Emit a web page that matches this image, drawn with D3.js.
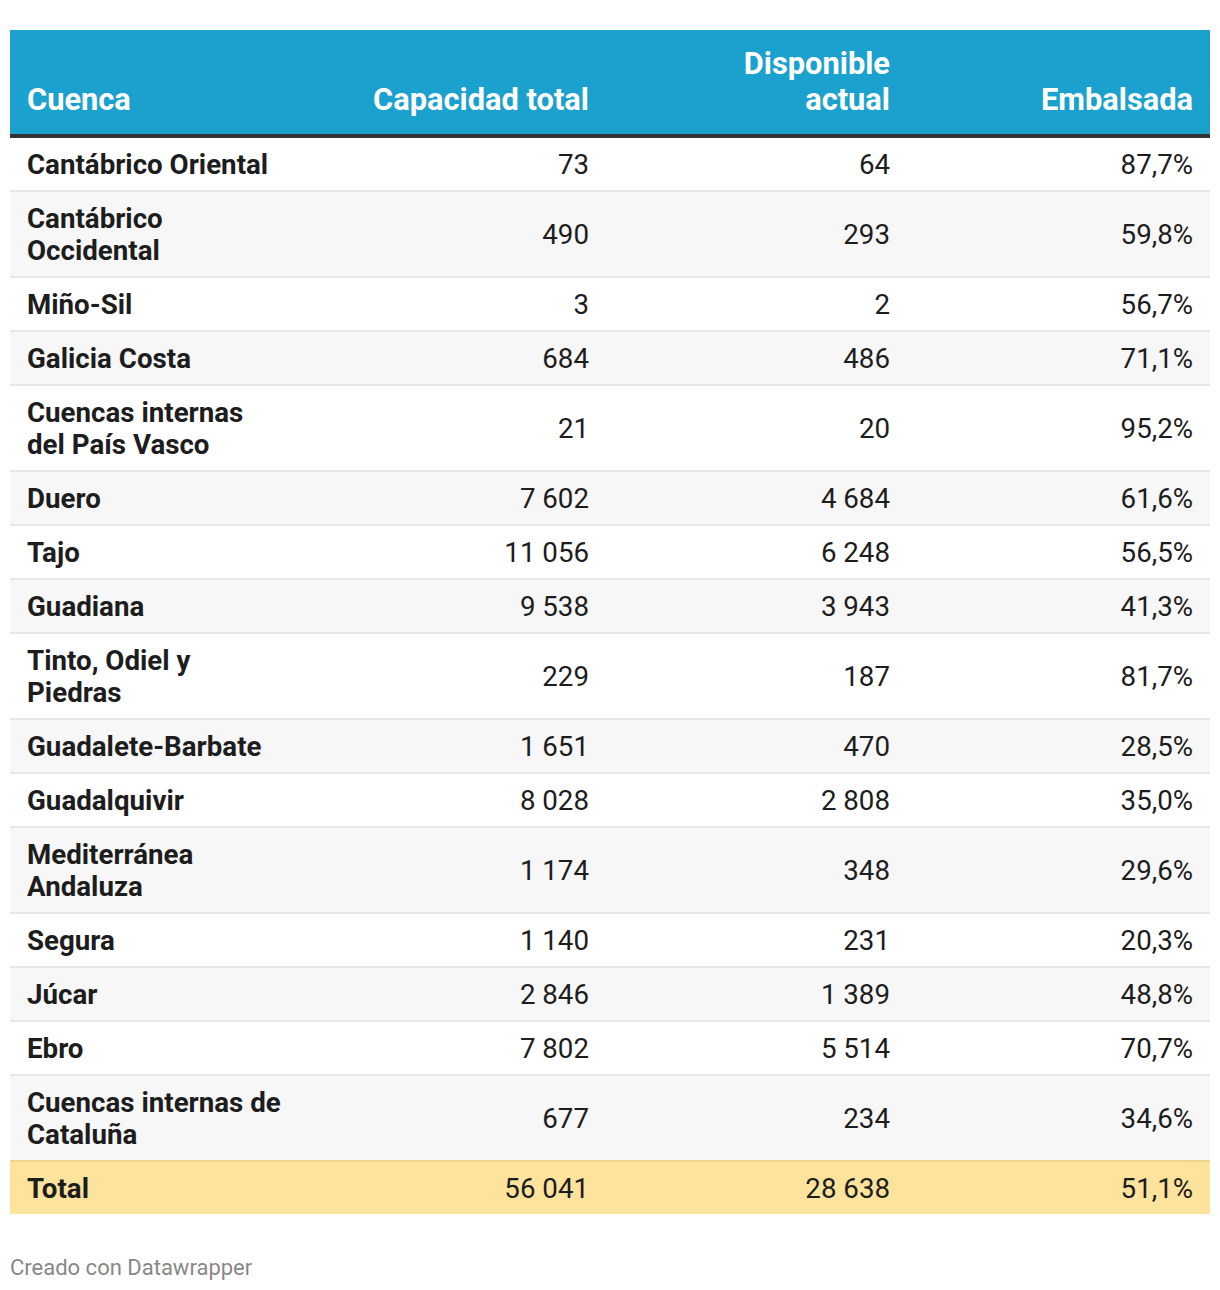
<!DOCTYPE html>
<html><head><meta charset="utf-8">
<script src="https://cdn.jsdelivr.net/npm/d3@7"></script>
<style>
html,body{margin:0;padding:0;background:#fff;}
svg{display:block;font-family:Roboto,"Noto Sans",sans-serif;}
</style></head>
<body>
<svg id="chart" width="1220" height="1290"></svg>
<script>
const columns = ["Cuenca", "Capacidad total", "Disponible actual", "Embalsada"];
const cuencas = ["Cantábrico Oriental","Cantábrico Occidental","Miño-Sil","Galicia Costa","Cuencas internas del País Vasco","Duero","Tajo","Guadiana","Tinto, Odiel y Piedras","Guadalete-Barbate","Guadalquivir","Mediterránea Andaluza","Segura","Júcar","Ebro","Cuencas internas de Cataluña"];
const capacidad = [73,490,3,684,21,7602,11056,9538,229,1651,8028,1174,1140,2846,7802,677];
const disponible = [64,293,2,486,20,4684,6248,3943,187,470,2808,348,231,1389,5514,234];
const embalsada = [87.7,59.8,56.7,71.1,95.2,61.6,56.5,41.3,81.7,28.5,35.0,29.6,20.3,48.8,70.7,34.6];
const totalLabel = "Total";
const totalValues = [56041, 28638, 51.1];
const footer = "Creado con Datawrapper";

const locale = d3.formatLocale({decimal:",", thousands:"\u2009", grouping:[3], currency:["","€"]});
const fmtInt = v => locale.format(",d")(v).replace(/\u2009/g," ");
const fmtPct = v => locale.format(".1f")(v) + "%";

const svg = d3.select("#chart");
const X0 = 10, X1 = 1210, PAD = 17;
const colRight = [306, 606, 907, 1210];
const headTop = 30, headBottom = 134, headBorder = 4;
const lineH = 32, rowPad = 20, divider = 2;
const bodyFont = 27.7, headFont = 30.8;
const textColor = "#1d1d1d";

// header
svg.append("rect").attr("x",X0).attr("y",headTop).attr("width",X1-X0).attr("height",headBottom-headTop).attr("fill","#1aa1cd");
svg.append("rect").attr("x",X0).attr("y",headBottom).attr("width",X1-X0).attr("height",headBorder).attr("fill","#333333");

const headLines = [["Cuenca"],["Capacidad total"],["Disponible","actual"],["Embalsada"]];
headLines.forEach((lines,i)=>{
  const t = svg.append("text")
    .attr("x", i===0 ? X0+PAD : colRight[i]-PAD)
    .attr("text-anchor", i===0 ? "start" : "end")
    .attr("font-size", headFont).attr("font-weight", 700).attr("fill","#fff");
  const n = lines.length;
  lines.forEach((l,j)=>{
    t.append("tspan").attr("x", i===0 ? X0+PAD : colRight[i]-PAD)
      .attr("y", 110 - (n-1-j)*36).text(l);
  });
});

// wrap measurement
const measurer = svg.append("text").attr("font-size",bodyFont).attr("font-weight",700).attr("visibility","hidden");
function textW(s){ measurer.text(s); return measurer.node().getComputedTextLength(); }
const maxW = 258;
function wrap(s){
  const words = s.split(" "); const lines=[]; let cur="";
  words.forEach(w=>{
    const test = cur ? cur+" "+w : w;
    if (cur && textW(test) > maxW){ lines.push(cur); cur=w; } else cur=test;
  });
  lines.push(cur); return lines;
}

let y = headBottom + headBorder;
const rows = cuencas.map((c,i)=>({name:c, lines:wrap(c), vals:[fmtInt(capacidad[i]), fmtInt(disponible[i]), fmtPct(embalsada[i])]}));
rows.forEach((r,i)=>{
  const h = r.lines.length*lineH + rowPad;
  svg.append("rect").attr("x",X0).attr("y",y).attr("width",X1-X0).attr("height",h).attr("fill", i%2 ? "#f7f7f7" : "#ffffff");
  const cy = y + h/2;
  const t = svg.append("text").attr("font-size",bodyFont).attr("font-weight",700).attr("fill",textColor).attr("dominant-baseline","central");
  r.lines.forEach((l,j)=>{
    t.append("tspan").attr("x",X0+PAD).attr("y", cy + (j-(r.lines.length-1)/2)*lineH).text(l);
  });
  r.vals.forEach((v,k)=>{
    svg.append("text").attr("x",colRight[k+1]-PAD).attr("y",cy).attr("text-anchor","end")
      .attr("dominant-baseline","central").attr("font-size",bodyFont).attr("fill",textColor).text(v);
  });
  y += h;
  if (i < rows.length-1){
    svg.append("rect").attr("x",X0).attr("y",y).attr("width",X1-X0).attr("height",divider).attr("fill","#e6e6e6");
    y += divider;
  }
});

// total row
svg.append("rect").attr("x",X0).attr("y",y).attr("width",X1-X0).attr("height",divider).attr("fill","#f0d48a");
y += divider;
const th = lineH + rowPad;
svg.append("rect").attr("x",X0).attr("y",y).attr("width",X1-X0).attr("height",th).attr("fill","#fee39c");
const tcy = y + th/2;
svg.append("text").attr("x",X0+PAD).attr("y",tcy).attr("dominant-baseline","central").attr("font-size",bodyFont).attr("font-weight",700).attr("fill",textColor).text(totalLabel);
[fmtInt(totalValues[0]), fmtInt(totalValues[1]), fmtPct(totalValues[2])].forEach((v,k)=>{
  svg.append("text").attr("x",colRight[k+1]-PAD).attr("y",tcy).attr("text-anchor","end")
    .attr("dominant-baseline","central").attr("font-size",bodyFont).attr("fill",textColor).text(v);
});

measurer.remove();

svg.append("text").attr("x",X0).attr("y",1267).attr("dominant-baseline","central").attr("font-size",22).attr("fill","#888888").text(footer);
</script>
</body></html>
